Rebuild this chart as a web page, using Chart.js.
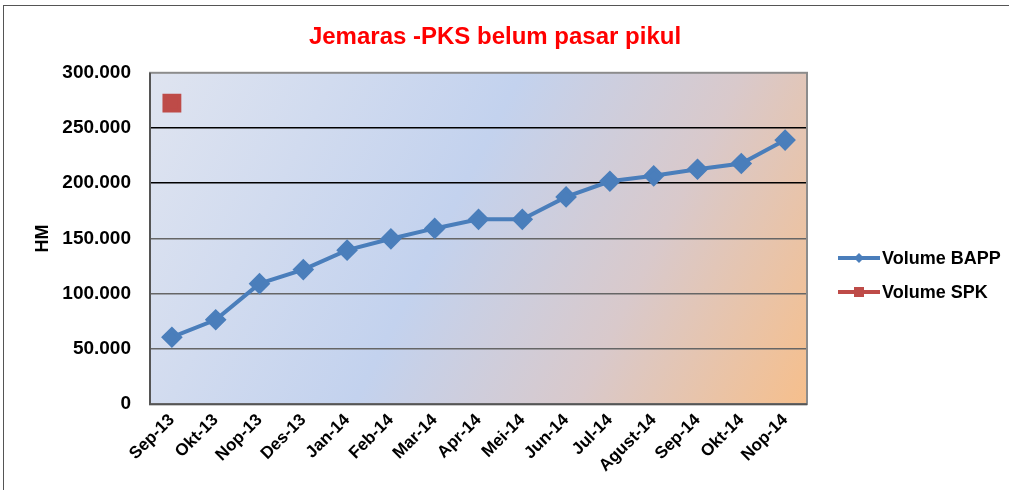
<!DOCTYPE html>
<html>
<head>
<meta charset="utf-8">
<script src="https://cdn.jsdelivr.net/npm/chart.js@4.4.0/dist/chart.umd.min.js"></script>
<style>
  html, body { margin: 0; padding: 0; background: #fff; }
  #wrap { width: 1009px; height: 490px; position: relative; }
</style>
</head>
<body>
<div id="wrap"><canvas id="chart"></canvas></div>
<script>
// --- data ---
const months = ['Sep-13', 'Okt-13', 'Nop-13', 'Des-13', 'Jan-14', 'Feb-14', 'Mar-14', 'Apr-14',
    'Mei-14', 'Jun-14', 'Jul-14', 'Agust-14', 'Sep-14', 'Okt-14', 'Nop-14'];
const volumeBAPP = [60600, 76400, 109100, 121800, 139400, 149700, 159100, 167300,
    167300, 187600, 201800, 206700, 212700, 217900, 239100];
const volumeSPK = [272500, null, null, null, null, null, null, null,
    null, null, null, null, null, null, null];
const yTicks = [0, 50000, 100000, 150000, 200000, 250000, 300000];

const FONT = 'Liberation Sans, Arial, sans-serif';

// format 150000 -> "150.000"
const fmt = v => v === 0 ? '0' : v.toLocaleString('de-DE');

// gradient fill behind the plot + outer frame
const plotBackground = {
    id: 'plotBackground',
    beforeDraw(chart) {
        const { ctx, chartArea: a } = chart;
        ctx.save();
        ctx.strokeStyle = '#555';
        ctx.lineWidth = 1;
        ctx.strokeRect(3.5, 5.5, 1100, 600);
        const g = ctx.createLinearGradient(a.left, a.top, a.right, a.bottom);
        g.addColorStop(0, '#dfe4f0');
        g.addColorStop(0.45, '#c3d2ee');
        g.addColorStop(0.72, '#d9c9cb');
        g.addColorStop(1, '#f6bf8c');
        ctx.fillStyle = g;
        ctx.fillRect(a.left, a.top, a.right - a.left, a.bottom - a.top);
        ctx.restore();
    },
    afterDatasetsDraw(chart) {
        const { ctx, chartArea: a } = chart;
        ctx.save();
        ctx.strokeStyle = '#8c8c8c';
        ctx.lineWidth = 2;
        ctx.strokeRect(a.left, a.top, a.right - a.left, a.bottom - a.top);
        ctx.strokeStyle = '#555';
        ctx.beginPath();
        ctx.moveTo(a.left, a.top);
        ctx.lineTo(a.left, a.bottom);
        ctx.lineTo(a.right, a.bottom);
        ctx.stroke();
        ctx.restore();
    }
};

// Excel-style legend: short line with marker, to the right of the plot
const sideLegend = {
    id: 'sideLegend',
    afterDraw(chart) {
        const { ctx } = chart;
        const x0 = 838, y0 = 258, gap = 34;
        ctx.save();
        chart.data.datasets.forEach((ds, i) => {
            const y = y0 + i * gap;
            ctx.strokeStyle = ds.borderColor;
            ctx.lineWidth = 4;
            ctx.beginPath();
            ctx.moveTo(x0, y);
            ctx.lineTo(x0 + 42, y);
            ctx.stroke();
            ctx.fillStyle = ds.pointBackgroundColor;
            if (ds.pointStyle === 'rectRot') {
                ctx.beginPath();
                ctx.moveTo(x0 + 21, y - 5);
                ctx.lineTo(x0 + 26, y);
                ctx.lineTo(x0 + 21, y + 5);
                ctx.lineTo(x0 + 16, y);
                ctx.closePath();
                ctx.fill();
            } else {
                ctx.fillRect(x0 + 16, y - 5, 10, 10);
            }
            ctx.fillStyle = '#000';
            ctx.font = 'bold 18px ' + FONT;
            ctx.textBaseline = 'middle';
            ctx.fillText(ds.label, x0 + 44, y + 1);
        });
        ctx.restore();
    }
};

new Chart(document.getElementById('chart'), {
    type: 'line',
    data: {
        labels: months,
        datasets: [{
            label: 'Volume BAPP',
            data: volumeBAPP,
            borderColor: '#4a7ebb',
            backgroundColor: '#4a7ebb',
            pointBackgroundColor: '#4a7ebb',
            pointBorderColor: '#4a7ebb',
            borderWidth: 4,
            pointStyle: 'rectRot',
            pointRadius: 8,
            tension: 0
        }, {
            label: 'Volume SPK',
            data: volumeSPK,
            borderColor: '#be4b48',
            backgroundColor: '#be4b48',
            pointBackgroundColor: '#be4b48',
            pointBorderColor: '#be4b48',
            borderWidth: 4,
            pointStyle: 'rect',
            pointRadius: 10.5,
            showLine: false
        }]
    },
    options: {
        responsive: true,
        maintainAspectRatio: false,
        animation: false,
        layout: { padding: { left: 0, right: 19, top: 0, bottom: 8 } },
        plugins: {
            legend: { display: false },
            tooltip: { enabled: false },
            title: {
                display: true,
                text: 'Jemaras -PKS belum pasar pikul',
                color: '#ff0000',
                font: { family: FONT, size: 24, weight: 'bold' },
                padding: { top: 23, bottom: 21 }
            }
        },
        scales: {
            x: {
                offset: true,
                grid: { display: false, drawTicks: false },
                border: { display: false },
                ticks: {
                    color: '#000',
                    font: { family: FONT, size: 17, weight: 'bold' },
                    maxRotation: 45,
                    minRotation: 45,
                    autoSkip: false,
                    padding: 6
                }
            },
            y: {
                min: 0,
                max: 300000,
                afterFit: scale => { scale.width = 150; },
                afterBuildTicks: scale => { scale.ticks = yTicks.map(v => ({ value: v })); },
                grid: {
                    color: ctx => ctx.tick && ctx.tick.value >= 200000 ? '#000' : '#666',
                    lineWidth: ctx => (ctx.tick && (ctx.tick.value === 0 || ctx.tick.value === 300000)) ? 0 : 1.5,
                    drawTicks: false
                },
                border: { display: false },
                ticks: {
                    color: '#000',
                    font: { family: FONT, size: 19, weight: 'bold' },
                    padding: 19,
                    callback: v => fmt(v)
                },
                title: {
                    display: true,
                    text: 'HM',
                    color: '#000',
                    font: { family: FONT, size: 18, weight: 'bold' },
                    padding: { top: 32, bottom: 0 }
                }
            },
            // empty axis that only reserves room for the legend on the right
            legendSpace: {
                position: 'right',
                display: true,
                afterFit: scale => { scale.width = 183; },
                grid: { display: false, drawTicks: false },
                border: { display: false },
                ticks: { display: false }
            }
        }
    },
    plugins: [plotBackground, sideLegend]
});
</script>
</body>
</html>
